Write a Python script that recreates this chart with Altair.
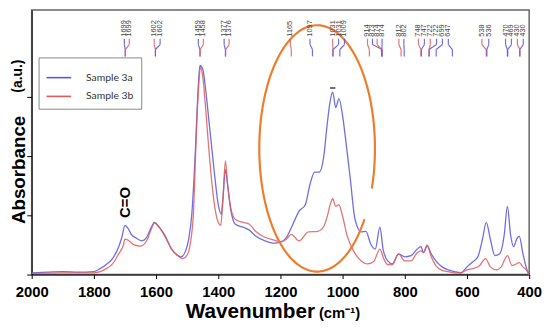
import altair as alt
import numpy as np
import pandas as pd

# ---------------- data ----------------
blue_w = [2000,1950,1900,1850,1800,1780,1760,1740,1720,1710,1700,1690,1680,1665,1645,1630,1615,1605,1590,1570,
          1550,1530,1520,1505,1495,1485,1475,1465,1459,1450,1440,1430,1420,1410,1400,1390,1385,1377,1370,1360,
          1345,1320,1300,1280,1250,1220,1200,1180,1160,1140,1120,1105,1090,1075,1060,1050,1040,1032,1022,1012,
          1000,990,975,960,940,925,910,895,880,870,855,840,820,800,780,760,748,740,728,715,
          700,680,660,640,620,600,580,565,550,538,525,510,495,480,470,460,450,440,432,420,405,400]
blue_a = [0.03,0.04,0.05,0.04,0.05,0.1,0.17,0.27,0.47,0.63,0.83,0.78,0.68,0.62,0.57,0.63,0.8,0.88,0.8,0.63,
          0.43,0.32,0.3,0.4,0.6,1.02,1.93,3.1,3.53,3.47,3.1,2.6,2.1,1.6,1.18,1.02,1.27,1.77,1.52,1.1,
          0.85,0.8,0.75,0.65,0.57,0.53,0.55,0.63,0.85,1.07,1.18,1.52,1.73,1.73,2.02,2.52,2.93,3.08,2.82,2.97,
          2.68,2.27,1.6,0.93,0.72,0.73,0.52,0.43,0.8,0.43,0.23,0.18,0.35,0.3,0.32,0.43,0.47,0.37,0.48,0.35,
          0.23,0.13,0.08,0.05,0.03,0.13,0.22,0.3,0.6,0.88,0.6,0.32,0.35,0.68,1.15,0.68,0.47,0.6,0.65,0.35,0.05,0.0]

red_w = [2000,1900,1800,1780,1760,1740,1720,1705,1700,1690,1670,1650,1630,1615,1605,1590,1570,1550,1530,1515,
         1500,1490,1480,1470,1462,1457,1450,1440,1430,1420,1410,1400,1392,1385,1377,1370,1360,1345,1320,1300,
         1280,1250,1220,1200,1180,1165,1140,1110,1080,1060,1050,1040,1032,1022,1012,1000,985,965,940,920,
         900,880,868,855,840,820,800,780,760,748,740,728,715,700,680,660,640,620,600,580,
         560,540,525,505,490,470,455,445,432,420,405,400]
red_a = [0.02,0.03,0.03,0.05,0.1,0.18,0.35,0.5,0.6,0.58,0.5,0.48,0.57,0.77,0.87,0.8,0.65,0.43,0.32,0.27,
         0.33,0.52,1.02,2.43,3.27,3.5,3.35,2.77,2.1,1.52,1.1,0.88,0.83,1.27,1.92,1.52,1.13,0.93,0.88,0.85,
         0.73,0.63,0.58,0.55,0.6,0.68,0.57,0.72,0.73,0.82,0.97,1.18,1.28,1.15,1.18,0.98,0.65,0.4,0.23,0.18,
         0.22,0.43,0.27,0.17,0.17,0.35,0.23,0.23,0.37,0.4,0.37,0.5,0.3,0.15,0.07,0.05,0.03,0.03,0.08,0.1,
         0.15,0.27,0.13,0.08,0.13,0.32,0.15,0.17,0.2,0.13,0.05,0.0]

samples = ["Sample 3a", "Sample 3b"]

peak_labels = ["1699","1699","1602","1602","1459","1458","1377","1376","1165","1097","1031","1031","1009",
               "914","873","874","874","812","802","748","747","722","722","699","647","538","536",
               "470","469","430","430"]
peak_wn = [1699,1699,1602,1602,1459,1458,1377,1376,1165,1097,1031,1031,1009,
           914,873,874,874,812,802,748,747,722,722,699,647,538,536,470,469,430,430]
peak_sample = ["a","b","b","a","a","b","a","b","b","a","b","a","a",
               "b","a","b","a","b","a","b","a","b","a","a","a","b","a","a","a","b","a"]
# where each label sits along the top strip (wavenumber units)
label_pos = [1702,1686,1606,1587,1464,1448,1381,1365,1168,1105,1032,1013,994,
             920,904,889,873,819,803,756,737,718,698,679,660,552,530,476,457,438,419]

x_ticks = [2000,1800,1600,1400,1200,1000,800,600,400]
y_ticks = [0,1,2,3]

# annotation parameters (orange ellipse around the 1200-900 region)
ell_cx, ell_cy, ell_rx, ell_ry = 1082, 2.13, 186, 2.08
ell_start, ell_end = -19, 325   # degrees, open gap at lower right

top_mark_w, top_mark_a = [1032], [3.15]
co_w = [1699]

# ---------------- build ----------------
BLUE = "#5555e0"
RED = "#e05a5a"
FONT = "Liberation Sans"

spec_df = pd.concat([
    pd.DataFrame({"wn": blue_w, "abs": blue_a, "sample": samples[0]}),
    pd.DataFrame({"wn": red_w, "abs": red_a, "sample": samples[1]}),
])

lab_df = pd.DataFrame({
    "label": peak_labels, "wn": peak_wn, "pos": label_pos,
    "sample": [samples[0] if s == "a" else samples[1] for s in peak_sample],
})

t = np.deg2rad(np.linspace(ell_start, ell_end, 160))
ell_df = pd.DataFrame({"wn": ell_cx - ell_rx * np.cos(t), "abs": ell_cy + ell_ry * np.sin(t),
                       "i": np.arange(len(t))})

W, H = 504, 268
xs = alt.Scale(domain=[400, 2000], reverse=True, nice=False, zero=False)
ys = alt.Scale(domain=[0, H / 60.0], nice=False, zero=True)
cs = alt.Scale(domain=samples, range=[BLUE, RED])

lines = alt.Chart(spec_df).mark_line(strokeWidth=1.3, interpolate="monotone", opacity=0.85).encode(
    x=alt.X("wn:Q", scale=xs, axis=alt.Axis(values=x_ticks, format="d", title=None, labelFontSize=15,
            labelFontWeight="bold", labelColor="black", labelFont=FONT, tickSize=4, tickColor="black",
            domainColor="black", labelPadding=6, grid=False, labelFlush=False)),
    y=alt.Y("abs:Q", scale=ys, axis=alt.Axis(values=y_ticks, labels=False, title=None, tickSize=5,
            tickColor="black", domainColor="black", grid=False)),
    color=alt.Color("sample:N", scale=cs, legend=alt.Legend(
        title=None, orient="none", legendX=7, legendY=48, symbolType="stroke", symbolSize=625,
        symbolStrokeWidth=1.6, symbolOpacity=1, labelFont="Lato", labelFontSize=10.5, labelColor="#333",
        labelOffset=14, padding=7, rowPadding=-6, strokeColor="#888", fillColor="white")),
    order=alt.Order("wn:Q", sort="descending"),
)

ellipse = alt.Chart(ell_df).mark_line(color="#EE7D2B", strokeWidth=2.2).encode(
    x=alt.X("wn:Q", scale=xs), y=alt.Y("abs:Q", scale=ys), order="i:Q")

labels = alt.Chart(lab_df).mark_text(angle=270, align="left", baseline="middle", fontSize=7.5,
                                     color="#444", font=FONT).encode(
    x=alt.X("pos:Q", scale=xs), y=alt.value(27), text="label:N")

seg1 = alt.Chart(lab_df).mark_rule(strokeWidth=1.2, opacity=0.85).encode(
    x=alt.X("pos:Q", scale=xs), y=alt.value(29), y2=alt.value(35),
    color=alt.Color("sample:N", scale=cs, legend=None))
seg2 = alt.Chart(lab_df).mark_rule(strokeWidth=1.2, opacity=0.85).encode(
    x=alt.X("pos:Q", scale=xs), x2="wn:Q", y=alt.value(35), y2=alt.value(40),
    color=alt.Color("sample:N", scale=cs, legend=None))
seg3 = alt.Chart(lab_df).mark_rule(strokeWidth=1.2, opacity=0.85).encode(
    x=alt.X("wn:Q", scale=xs), y=alt.value(40), y2=alt.value(47),
    color=alt.Color("sample:N", scale=cs, legend=None))

top_mark = alt.Chart(pd.DataFrame({"wn": top_mark_w, "abs": top_mark_a})).mark_point(
    shape="stroke", size=30, strokeWidth=1.6, color="black", filled=False).encode(
    x=alt.X("wn:Q", scale=xs), y=alt.Y("abs:Q", scale=ys))

co = alt.Chart(pd.DataFrame({"wn": co_w, "t": ["C=O"]})).mark_text(
    angle=270, align="center", baseline="middle", fontSize=15, fontWeight="bold", font=FONT,
    color="black").encode(x=alt.X("wn:Q", scale=xs), y=alt.value(195), text="t:N")

xt1 = alt.Chart(pd.DataFrame({"t": ["Wavenumber"]})).mark_text(
    align="right", baseline="alphabetic", fontSize=21, fontWeight="bold", font=FONT, color="black").encode(
    x=alt.value(287), y=alt.value(312), text="t:N")
xt2 = alt.Chart(pd.DataFrame({"t": ["(cm⁻¹)"]})).mark_text(
    align="left", baseline="alphabetic", fontSize=15, fontWeight="bold", font=FONT, color="black").encode(
    x=alt.value(291), y=alt.value(312), text="t:N")
yt1 = alt.Chart(pd.DataFrame({"t": ["Absorbance"]})).mark_text(
    angle=270, align="center", baseline="middle", fontSize=19, fontWeight="bold", font=FONT,
    color="black").encode(x=alt.value(-13), y=alt.value(162), text="t:N")
yt2 = alt.Chart(pd.DataFrame({"t": ["(a.u.)"]})).mark_text(
    angle=270, align="center", baseline="middle", fontSize=14, fontWeight="bold", font=FONT,
    color="black").encode(x=alt.value(-14), y=alt.value(67), text="t:N")

chart = alt.layer(lines, ellipse, seg1, seg2, seg3, labels, top_mark, co, xt1, xt2, yt1, yt2).properties(
    width=W, height=H,
    padding={"left": 24, "top": 0, "right": 13, "bottom": 45},
    autosize=alt.AutoSizeParams(type="none"),
).configure_view(stroke="#666", strokeWidth=1.5)

chart.save("out.html", embed_options={"renderer": "svg", "actions": False})
